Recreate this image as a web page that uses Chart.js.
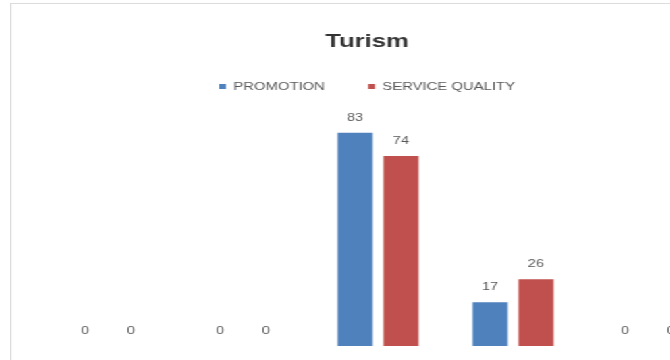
<!DOCTYPE html>
<html>
<head>
<meta charset="utf-8">
<script src="https://cdn.jsdelivr.net/npm/chart.js@4/dist/chart.umd.min.js"></script>
<style>
    html, body {
        margin: 0;
        padding: 0;
        background: #ffffff;
        overflow: hidden;
        width: 670px;
        height: 360px;
    }
    /* the chart box is drawn narrow and stretched sideways */
    #chart-box {
        position: absolute;
        left: 10px;
        top: 3px;
        border: 1px solid #dcdcdc;
        transform: scaleX(1.35);
        transform-origin: 0 0;
    }
    #turism-chart {
        display: block;
    }
</style>
</head>
<body>
<div id="chart-box">
    <canvas id="turism-chart" width="527" height="400"></canvas>
</div>
<script>
const categories = ['Very Poor', 'Poor', 'Fair', 'Good', 'Very Good'];
const promotionValues = [0, 0, 83, 17, 0];
const serviceQualityValues = [0, 0, 74, 26, 0];
const seriesNames = ['PROMOTION', 'SERVICE QUALITY'];

const blue = '#4f81bd';
const red = '#c0504d';
const labelGrey = '#595959';

/**
 * Writes each bar's value just above it
 */
const barValueLabels = {
    id: 'barValueLabels',
    afterDatasetsDraw(chart) {
        const ctx = chart.ctx;
        ctx.save();
        ctx.font = '11px "Liberation Sans", Arial, sans-serif';
        ctx.fillStyle = labelGrey;
        ctx.textAlign = 'center';
        ctx.textBaseline = 'middle';
        chart.data.datasets.forEach((dataset, i) => {
            chart.getDatasetMeta(i).data.forEach((bar, j) => {
                ctx.fillText(String(dataset.data[j]), bar.x, bar.y - 15);
            });
        });
        ctx.restore();
    }
};

new Chart(document.getElementById('turism-chart'), {
    type: 'bar',
    data: {
        labels: categories,
        datasets: [{
            label: seriesNames[0],
            data: promotionValues,
            backgroundColor: blue,
            borderWidth: 0,
            barPercentage: 0.765,
            categoryPercentage: 0.68
        }, {
            label: seriesNames[1],
            data: serviceQualityValues,
            backgroundColor: red,
            borderWidth: 0,
            barPercentage: 0.765,
            categoryPercentage: 0.68
        }]
    },
    options: {
        responsive: false,
        animation: false,
        devicePixelRatio: 1,
        layout: {
            padding: { left: 5.4, right: 5.4, top: 0, bottom: 58 }
        },
        plugins: {
            title: {
                display: true,
                text: 'Turism',
                color: '#333333',
                font: { family: '"Liberation Sans", Arial, sans-serif', size: 19, weight: 'bold', lineHeight: 1.2 },
                padding: { top: 26.1, bottom: -3.9 }
            },
            legend: {
                position: 'top',
                labels: {
                    color: labelGrey,
                    font: { family: '"Liberation Sans", Arial, sans-serif', size: 11 },
                    boxWidth: 5,
                    boxHeight: 5,
                    padding: 32
                }
            },
            tooltip: { enabled: false }
        },
        scales: {
            x: {
                display: false
            },
            y: {
                min: 0,
                max: 95,
                ticks: { display: false },
                grid: { display: false },
                border: { display: false },
                afterFit: (axis) => {
                    axis.width = 16.2;
                }
            }
        }
    },
    plugins: [barValueLabels]
});
</script>
</body>
</html>
